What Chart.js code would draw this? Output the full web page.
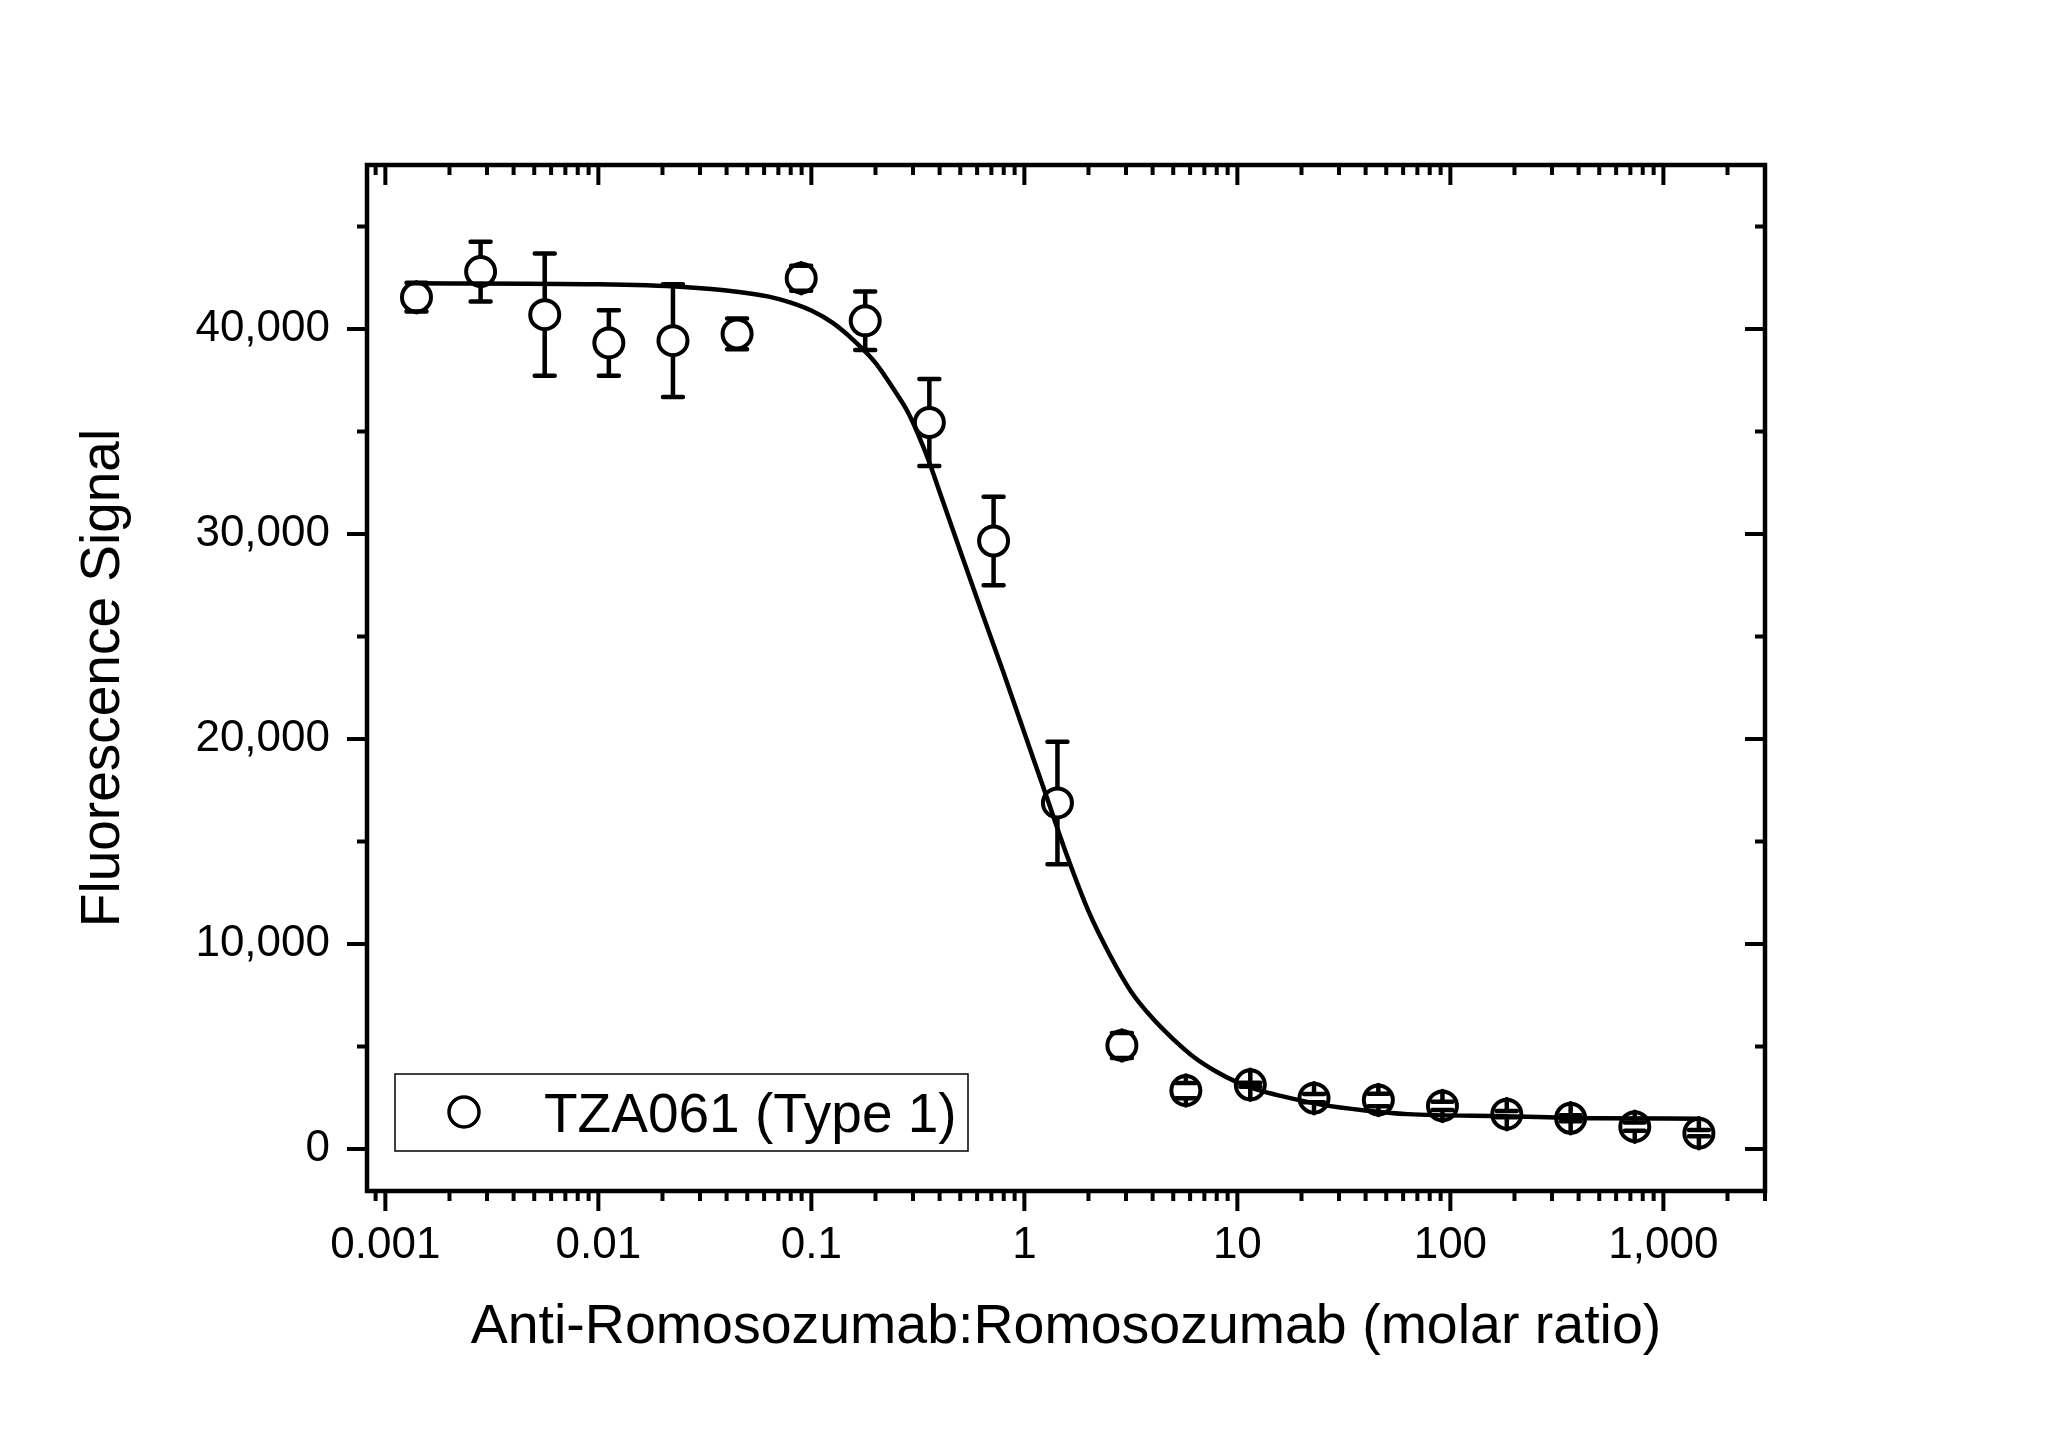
<!DOCTYPE html>
<html lang="en">
<head>
<meta charset="UTF-8">
<title>TZA061 (Type 1) - Fluorescence Signal vs molar ratio</title>
<style>
    html, body { margin: 0; padding: 0; background: #fff; }
    canvas { display: block; }
</style>
</head>
<body>
<canvas id="myChart" width="2051" height="1429"></canvas>

<script src="https://cdn.jsdelivr.net/npm/chart.js"></script>
<script>
    // measured points (2-fold dilution series)
    const ratios = [0.0014, 0.0028, 0.0056, 0.0112, 0.0224, 0.0448, 0.0896, 0.179, 0.358, 0.717, 1.43,
                    2.87, 5.73, 11.5, 22.9, 45.9, 91.8, 184, 367, 734, 1468];
    const signal = [41550, 42800, 40700, 39320, 39430, 39760, 42480, 40400, 35440, 29660, 16880,
                    5050, 2850, 3130, 2480, 2390, 2100, 1700, 1500, 1090, 770];
    const signalErr = [700, 1460, 2980, 1600, 2750, 750, 610, 1430, 2120, 2160, 2990,
                       610, 370, 100, 200, 300, 200, 150, 150, 200, 150];

    // fitted curve
    const fitX = [0.00132, 0.01, 0.0251, 0.0447, 0.0631, 0.0794, 0.1, 0.126, 0.158, 0.2, 0.251, 0.282,
                  0.316, 0.355, 0.398, 0.501, 0.631, 0.794, 1, 1.26, 1.58, 2.0, 2.51, 3.16, 3.98, 5.01,
                  6.31, 7.94, 10, 12.6, 15.8, 25.1, 39.8, 63.1, 182, 479, 1480];
    const fitY = [42230, 42180, 42050, 41820, 41580, 41300, 40900, 40300, 39450, 38350, 36850, 36000,
                  34900, 33600, 32120, 29150, 26200, 23300, 20300, 17300, 14350, 11600, 9500, 7700, 6400, 5350,
                  4450, 3780, 3250, 2870, 2600, 2150, 1880, 1700, 1600, 1500, 1480];

    const xTicks = [0.001, 0.01, 0.1, 1, 10, 100, 1000];
    const xTickLabels = ['0.001', '0.01', '0.1', '1', '10', '100', '1,000'];
    const yTicks = [0, 10000, 20000, 30000, 40000];
    const yTickLabels = ['0', '10,000', '20,000', '30,000', '40,000'];

    const FONT = "'Liberation Sans', Arial, sans-serif";

    // error bars: line from symbol edge to cap
    const errorBars = {
        id: 'errorBars',
        afterDatasetsDraw(chart) {
            const { ctx, scales: { x, y } } = chart;
            const r = 15;
            ctx.save();
            ctx.strokeStyle = '#000';
            ctx.lineWidth = 4.5;
            ctx.lineCap = 'round';
            ratios.forEach((v, i) => {
                const px = x.getPixelForValue(v);
                const py = y.getPixelForValue(signal[i]);
                const top = y.getPixelForValue(signal[i] + signalErr[i]);
                const bot = y.getPixelForValue(signal[i] - signalErr[i]);
                ctx.beginPath();
                ctx.moveTo(px, py - r); ctx.lineTo(px, top);
                ctx.moveTo(px, py + r); ctx.lineTo(px, bot);
                ctx.moveTo(px - 10, top); ctx.lineTo(px + 10, top);
                ctx.moveTo(px - 10, bot); ctx.lineTo(px + 10, bot);
                ctx.stroke();
            });
            ctx.restore();
        }
    };

    // box frame with ticks (out on left/bottom, in on top/right)
    const frame = {
        id: 'frame',
        afterDraw(chart) {
            const { ctx, chartArea: a, scales: { x, y } } = chart;
            ctx.save();
            ctx.strokeStyle = '#000';
            ctx.lineWidth = 4;
            ctx.beginPath();
            for (let e = -4; e <= 3; e++) {
                for (let m = 1; m <= 9; m++) {
                    const v = m * Math.pow(10, e);
                    if (v < x.min || v > x.max) continue;
                    const px = x.getPixelForValue(v);
                    const len = m === 1 ? 20 : 10;
                    ctx.moveTo(px, a.bottom); ctx.lineTo(px, a.bottom + len);
                    ctx.moveTo(px, a.top); ctx.lineTo(px, a.top + len);
                }
            }
            for (let v = 0; v <= y.max; v += 5000) {
                const py = y.getPixelForValue(v);
                const len = v % 10000 === 0 ? 20 : 10;
                ctx.moveTo(a.left, py); ctx.lineTo(a.left - len, py);
                ctx.moveTo(a.right, py); ctx.lineTo(a.right - len, py);
            }
            ctx.stroke();
            ctx.lineWidth = 4.5;
            ctx.strokeRect(a.left, a.top, a.right - a.left, a.bottom - a.top);
            ctx.restore();
        }
    };

    // legend box inside the plot, lower left
    const legendBox = {
        id: 'legendBox',
        afterDraw(chart) {
            const { ctx, chartArea: a } = chart;
            const ds = chart.data.datasets[0];
            const bx = a.left + 28, by = a.bottom - 117, bw = 573, bh = 77;
            ctx.save();
            ctx.strokeStyle = '#000';
            ctx.lineWidth = 1.5;
            ctx.strokeRect(bx, by, bw, bh);
            ctx.lineWidth = 3.5;
            ctx.beginPath();
            ctx.arc(bx + 69, by + 38, 15, 0, Math.PI * 2);
            ctx.stroke();
            ctx.fillStyle = '#000';
            ctx.font = '55px ' + FONT;
            ctx.textBaseline = 'alphabetic';
            ctx.fillText(ds.label, bx + 149, by + 58);
            ctx.restore();
        }
    };

    new Chart(document.getElementById('myChart'), {
        type: 'scatter',
        data: {
            datasets: [
                {
                    label: 'TZA061 (Type 1)',
                    data: ratios.map((v, i) => ({ x: v, y: signal[i] })),
                    showLine: false,
                    pointRadius: 14.5,
                    pointHoverRadius: 14.5,
                    pointBorderWidth: 4,
                    pointBorderColor: '#000',
                    pointBackgroundColor: 'rgba(0,0,0,0)'
                },
                {
                    label: 'fit',
                    data: fitX.map((v, i) => ({ x: v, y: fitY[i] })),
                    showLine: true,
                    pointRadius: 0,
                    pointHoverRadius: 0,
                    borderColor: '#000',
                    borderWidth: 4.5,
                    cubicInterpolationMode: 'monotone',
                    fill: false
                }
            ]
        },
        options: {
            responsive: false,
            animation: false,
            devicePixelRatio: 1,
            layout: { padding: { left: 0, top: 165, right: 286, bottom: 0 } },
            plugins: {
                legend: { display: false },
                tooltip: { enabled: false }
            },
            scales: {
                x: {
                    type: 'logarithmic',
                    min: 0.00082,
                    max: 3000,
                    grid: { display: false, drawTicks: false },
                    border: { display: false },
                    afterBuildTicks: s => { s.ticks = xTicks.map(v => ({ value: v })); },
                    afterFit: s => { s.height = 238; },
                    ticks: {
                        autoSkip: false,
                        maxRotation: 0,
                        padding: 28,
                        color: '#000',
                        font: { family: FONT, size: 44 },
                        callback: (v, i) => xTickLabels[i]
                    },
                    title: {
                        display: true,
                        text: 'Anti-Romosozumab:Romosozumab (molar ratio)',
                        color: '#000',
                        font: { family: FONT, size: 55.5 },
                        padding: { top: 0, bottom: 68 }
                    }
                },
                y: {
                    min: -2050,
                    max: 48000,
                    grid: { display: false, drawTicks: false },
                    border: { display: false },
                    afterBuildTicks: s => { s.ticks = yTicks.map(v => ({ value: v })); },
                    afterFit: s => { s.width = 367; },
                    ticks: {
                        padding: 37,
                        color: '#000',
                        font: { family: FONT, size: 44 },
                        callback: (v, i) => yTickLabels[i]
                    },
                    title: {
                        display: true,
                        text: 'Fluorescence Signal',
                        color: '#000',
                        font: { family: FONT, size: 55 },
                        padding: { top: 71, bottom: 0 }
                    }
                }
            }
        },
        plugins: [errorBars, frame, legendBox]
    });
</script>
</body>
</html>
